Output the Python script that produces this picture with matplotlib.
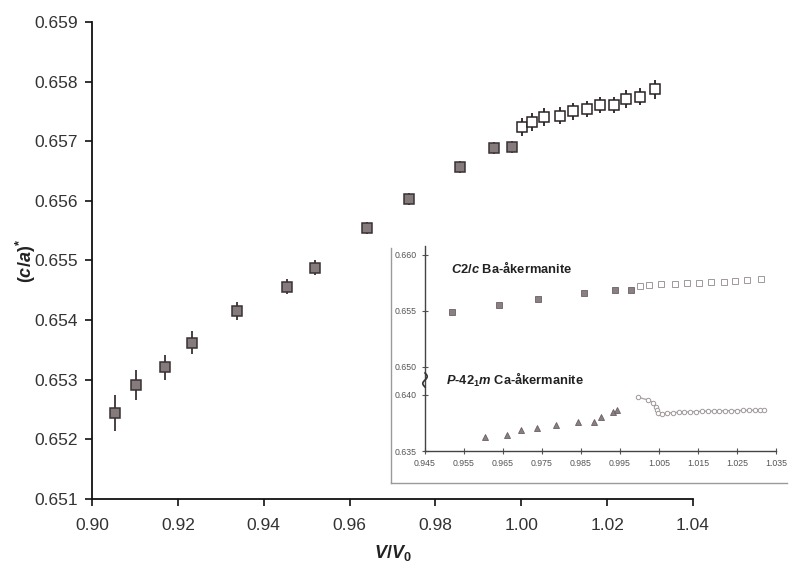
import numpy as np
import matplotlib
matplotlib.use("Agg")
import matplotlib.pyplot as plt
from matplotlib.lines import Line2D

plt.rcParams['font.family'] = ['Liberation Sans', 'DejaVu Sans']
plt.rcParams['mathtext.fontset'] = 'custom'
plt.rcParams['mathtext.it'] = 'Liberation Sans:bold:italic'
plt.rcParams['mathtext.rm'] = 'Liberation Sans:bold'
plt.rcParams['mathtext.bf'] = 'Liberation Sans:bold'

# ---- main data: Ba-akermanite (c/a)* vs V/V0 ----
ba_fill_x = [0.9054, 0.9102, 0.9170, 0.9233, 0.9338, 0.9454, 0.9520, 0.9641, 0.9739, 0.9857, 0.9937, 0.9979]
ba_fill_y = [0.65244, 0.65291, 0.65321, 0.65362, 0.65415, 0.65456, 0.65488, 0.65555, 0.65603, 0.65657, 0.65689, 0.65691]
ba_fill_err = [0.00030, 0.00025, 0.00021, 0.00019, 0.00015, 0.00013, 0.00012, 0.00010, 0.00010, 0.00010, 0.00010, 0.00010]

ba_open_x = [1.0002, 1.0024, 1.0054, 1.0090, 1.0121, 1.0152, 1.0183, 1.0216, 1.0245, 1.0276, 1.0311]
ba_open_y = [0.65724, 0.65733, 0.65740, 0.65743, 0.65750, 0.65754, 0.65761, 0.65761, 0.65771, 0.65775, 0.65787]
ba_open_err = [0.00015, 0.00015, 0.00015, 0.00014, 0.00014, 0.00014, 0.00014, 0.00014, 0.00015, 0.00015, 0.00016]

# ---- inset: Ca-akermanite ----
ca_fill_x = [0.9604, 0.9659, 0.9696, 0.9736, 0.9785, 0.9843, 0.9883, 0.9901, 0.9931, 0.9942]
ca_fill_y = [0.63622, 0.63643, 0.63688, 0.63705, 0.63732, 0.63756, 0.63759, 0.63801, 0.63846, 0.63866]

ca_open_x = [0.9997, 1.0023, 1.0035, 1.0042, 1.0044, 1.0047, 1.0057, 1.0070, 1.0085, 1.0100, 1.0115,
             1.0130, 1.0145, 1.0160, 1.0175, 1.0190, 1.0205, 1.0220, 1.0235, 1.0250, 1.0265, 1.0280,
             1.0295, 1.0310, 1.0320]
ca_open_y = [0.63979, 0.63955, 0.63931, 0.63896, 0.63866, 0.63837, 0.63830, 0.63838, 0.63842, 0.63845, 0.63847,
             0.63850, 0.63852, 0.63854, 0.63855, 0.63857, 0.63858, 0.63859, 0.63860, 0.63861, 0.63862, 0.63863,
             0.63864, 0.63865, 0.63866]

main_xticks = [0.90, 0.92, 0.94, 0.96, 0.98, 1.00, 1.02, 1.04]
main_yticks = [0.651, 0.652, 0.653, 0.654, 0.655, 0.656, 0.657, 0.658, 0.659]
inset_xticks = [0.945, 0.955, 0.965, 0.975, 0.985, 0.995, 1.005, 1.015, 1.025, 1.035]
inset_yticks = [0.635, 0.640, 0.650, 0.655, 0.660]

W, H = 789, 565
fig = plt.figure(figsize=(W / 100, H / 100), dpi=100)

def rect(l, t, r, b):
    return [l / W, 1 - b / H, (r - l) / W, (b - t) / H]

ax = fig.add_axes(rect(92, 22, 693, 499))
ax.set_xlim(0.90, 1.04)
ax.set_ylim(0.651, 0.659)
for s in ['top', 'right']:
    ax.spines[s].set_visible(False)
for s in ['left', 'bottom']:
    ax.spines[s].set_linewidth(1.3)
    ax.spines[s].set_color('#111111')
ax.set_xticks(main_xticks)
ax.set_xticklabels([f"{v:.2f}" for v in main_xticks])
ax.set_yticks(main_yticks)
ax.set_yticklabels([f"{v:.3f}" for v in main_yticks])
ax.tick_params(axis='both', direction='out', length=5, width=1.2, labelsize=12.5,
               labelcolor='#333333', color='#111111')
ax.tick_params(axis='x', pad=9)
ax.tick_params(axis='y', pad=5)

ax.errorbar(ba_fill_x, ba_fill_y, yerr=ba_fill_err, fmt='s', ms=7.5, mfc='#857a7c', mec='#3a3234',
            mew=1.1, ecolor='#3a3234', elinewidth=1.3, capsize=0, zorder=3)
ax.errorbar(ba_open_x, ba_open_y, yerr=ba_open_err, fmt='s', ms=7.5, mfc='white', mec='#2a2224',
            mew=1.1, ecolor='#2a2224', elinewidth=1.3, capsize=0, zorder=3)

ax.set_ylabel(r"$(c/a)^{*}$", fontsize=13, color='#222222')
ax.yaxis.set_label_coords(-0.09, 0.5)
ax.set_xlabel(r"$V/V_{0}$", fontsize=13, color='#222222')
ax.xaxis.set_label_coords(0.5, -0.092)

# ---- inset frame ----
fig.add_artist(Line2D([391 / W, 391 / W], [1 - 248 / H, 1 - 483 / H], color='#9a9a9a', lw=1.0))
fig.add_artist(Line2D([391 / W, 787 / W], [1 - 483 / H, 1 - 483 / H], color='#9a9a9a', lw=1.0))

# ---- inset axes with compressed gap between 0.640 and 0.650 ----
def fwd(y):
    y = np.asarray(y, dtype=float)
    return np.where(y <= 0.640, y, np.where(y >= 0.650, y - 0.0075, 0.640 + (y - 0.640) * 0.25))

def inv(y):
    y = np.asarray(y, dtype=float)
    return np.where(y <= 0.640, y, np.where(y >= 0.6425, y + 0.0075, 0.640 + (y - 0.640) * 4.0))

axi = fig.add_axes(rect(425, 246, 776, 451))
axi.set_yscale('function', functions=(fwd, inv))
axi.set_xlim(0.945, 1.035)
axi.set_ylim(0.635, 0.6608)
for s in ['top', 'right']:
    axi.spines[s].set_visible(False)
for s in ['left', 'bottom']:
    axi.spines[s].set_linewidth(1.0)
    axi.spines[s].set_color('#444444')
axi.set_xticks(inset_xticks)
axi.set_xticklabels([f"{v:.3f}" for v in inset_xticks])
axi.set_yticks(inset_yticks)
axi.set_yticklabels([f"{v:.3f}" for v in inset_yticks])
axi.yaxis.set_minor_locator(matplotlib.ticker.NullLocator())
axi.tick_params(axis='both', direction='inout', length=4, width=0.8, labelsize=6.3,
                labelcolor='#555555', color='#555555', pad=4)
axi.patch.set_alpha(0)

mask = [x >= 0.95 for x in ba_fill_x]
axi.plot([x for x, m in zip(ba_fill_x, mask) if m], [y for y, m in zip(ba_fill_y, mask) if m],
         's', ms=3.8, mfc='#8a8082', mec='#6a6062', mew=0.6, zorder=3)
axi.plot(ba_open_x, ba_open_y, 's', ms=3.8, mfc='white', mec='#a09898', mew=0.7, zorder=3)
axi.plot(ca_fill_x, ca_fill_y, '^', ms=4, mfc='#8a8082', mec='#6a6062', mew=0.6, zorder=3)
axi.plot(ca_open_x, ca_open_y, '-o', ms=3.2, color='#b0a8a8', mfc='white', mec='#a09898',
         mew=0.7, lw=1.0, zorder=3)

axi.text(0.075, 0.895, r"$C$2/$c$ Ba-åkermanite", transform=axi.transAxes, fontsize=9.3,
         fontweight='bold', color='#222222', va='center', ha='left')
axi.text(0.06, 0.345, r"$P$-42$_{1}$$m$ Ca-åkermanite", transform=axi.transAxes, fontsize=9.3,
         fontweight='bold', color='#222222', va='center', ha='left')

# break mark on inset y axis
t = np.linspace(0, 1, 40)
bx = 425 + 2.2 * np.sin(2 * np.pi * t)
by = 373 + 14 * t
fig.add_artist(Line2D(bx / W, 1 - by / H, color='#333333', lw=1.2))

fig.savefig("out.png", dpi=100)
